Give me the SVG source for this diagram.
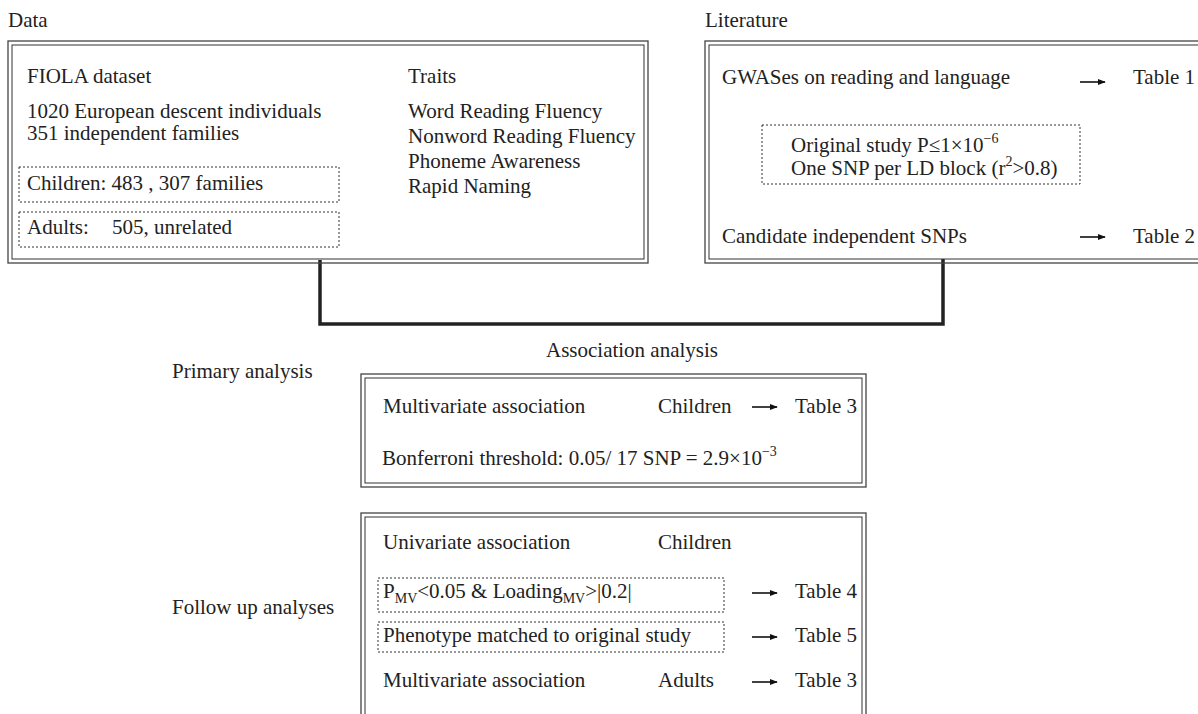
<svg xmlns="http://www.w3.org/2000/svg" width="1198" height="714" viewBox="0 0 1198 714">
<style>
text{font-family:"Liberation Serif","Times New Roman",serif;font-size:21px;fill:#222}
.sm{font-size:14px}
.outer{fill:none;stroke:#444;stroke-width:1.3}
.inner{fill:none;stroke:#333;stroke-width:1}
.dot{fill:none;stroke:#333;stroke-width:1;stroke-dasharray:2 2}
.arr{stroke:#111;stroke-width:1.6;marker-end:url(#ah)}
.conn{fill:none;stroke:#222;stroke-width:3.5}
</style>
<defs>
<marker id="ah" viewBox="0 0 10 10" refX="9" refY="5" markerWidth="8" markerHeight="8" markerUnits="userSpaceOnUse" orient="auto"><path d="M0,1 L10,5 L0,9 z" fill="#111"/></marker>
</defs>
<rect width="1198" height="714" fill="#fff"/>

<text x="8" y="27">Data</text>
<text x="705" y="27">Literature</text>

<g id="connectors">
<polyline class="conn" points="320,260 320,324 943,324 943,259"/>
</g>

<g id="data">
<rect class="outer" x="8" y="41" width="640" height="222"/>
<rect class="inner" x="12" y="45" width="632" height="214"/>
<text x="27" y="83">FIOLA dataset</text>
<text x="27" y="118">1020 European descent individuals</text>
<text x="27" y="140">351 independent families</text>
<rect class="dot" x="19" y="167" width="320" height="35"/>
<text x="27" y="190">Children: 483 , 307 families</text>
<rect class="dot" x="19" y="212" width="320" height="35"/>
<text x="27" y="234">Adults:<tspan x="112">505, unrelated</tspan></text>
<text x="408" y="83">Traits</text>
<text x="408" y="118">Word Reading Fluency</text>
<text x="408" y="143">Nonword Reading Fluency</text>
<text x="408" y="168">Phoneme Awareness</text>
<text x="408" y="193">Rapid Naming</text>
</g>

<g id="literature">
<rect class="outer" x="705" y="41" width="520" height="222"/>
<rect class="inner" x="709" y="45" width="512" height="214"/>
<text x="722" y="84">GWASes on reading and language</text>
<line class="arr" x1="1080" y1="82" x2="1105" y2="82"/>
<text x="1133" y="84">Table 1</text>
<rect class="dot" x="762" y="125" width="318" height="59"/>
<text x="791" y="152">Original study P≤1×10<tspan class="sm" dy="-9">−6</tspan></text>
<text x="791" y="175">One SNP per LD block (r<tspan class="sm" dy="-9">2</tspan><tspan dy="9">&gt;0.8)</tspan></text>
<text x="722" y="243">Candidate independent SNPs</text>
<line class="arr" x1="1080" y1="237" x2="1105" y2="237"/>
<text x="1133" y="243">Table 2</text>
</g>

<text x="632" y="357" text-anchor="middle">Association analysis</text>

<g id="primary">
<text x="172" y="378">Primary analysis</text>
<rect class="outer" x="361" y="374" width="505" height="113"/>
<rect class="inner" x="365" y="378" width="497" height="105"/>
<text x="383" y="413">Multivariate association</text>
<text x="658" y="413">Children</text>
<line class="arr" x1="752" y1="407" x2="777" y2="407"/>
<text x="795" y="413">Table 3</text>
<text x="382" y="465">Bonferroni threshold: 0.05/ 17 SNP = 2.9×10<tspan class="sm" dy="-9">−3</tspan></text>
</g>

<g id="followup">
<text x="172" y="614">Follow up analyses</text>
<rect class="outer" x="361" y="513" width="505" height="230"/>
<rect class="inner" x="365" y="517" width="497" height="222"/>
<text x="383" y="549">Univariate association</text>
<text x="658" y="549">Children</text>
<rect class="dot" x="378" y="578" width="346" height="34"/>
<text x="383" y="598">P<tspan class="sm" dy="5">MV</tspan><tspan dy="-5">&lt;0.05 &amp; Loading</tspan><tspan class="sm" dy="5">MV</tspan><tspan dy="-5">&gt;|0.2|</tspan></text>
<line class="arr" x1="752" y1="593" x2="777" y2="593"/>
<text x="795" y="598">Table 4</text>
<rect class="dot" x="378" y="622" width="346" height="30"/>
<text x="383" y="642">Phenotype matched to original study</text>
<line class="arr" x1="752" y1="637" x2="777" y2="637"/>
<text x="795" y="642">Table 5</text>
<text x="383" y="687">Multivariate association</text>
<text x="658" y="687">Adults</text>
<line class="arr" x1="752" y1="682" x2="777" y2="682"/>
<text x="795" y="687">Table 3</text>
</g>
</svg>
